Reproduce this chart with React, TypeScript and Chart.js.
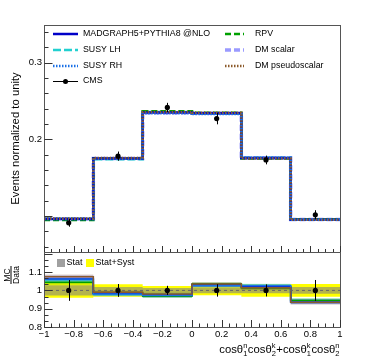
import React, { useEffect, useRef } from "react";
import { Chart, registerables } from "chart.js";

Chart.register(...registerables);

// ---------- data ----------
const BIN_EDGES = [-1, -0.6667, -0.3333, 0, 0.3333, 0.6667, 1];
const BIN_CENTERS = [-0.8333, -0.5, -0.1667, 0.1667, 0.5, 0.8333];
const X_TICKS = [-1, -0.8, -0.6, -0.4, -0.2, 0, 0.2, 0.4, 0.6, 0.8, 1];
const Y_TICKS = [0.2, 0.3];
const YR_TICKS = [0.8, 0.9, 1, 1.1];

const CMS_DATA = [0.091, 0.178, 0.2415, 0.227, 0.173, 0.1015];
const CMS_ERR = [0.005, 0.006, 0.006, 0.0075, 0.0057, 0.006];

const MG = [0.096, 0.175, 0.235, 0.234, 0.1755, 0.095];
const SUSY_LH = [0.0962, 0.174, 0.2355, 0.2335, 0.176, 0.0955];
const SUSY_RH = [0.096, 0.1745, 0.234, 0.233, 0.176, 0.0952];
const RPV = [0.0948, 0.1752, 0.2365, 0.2345, 0.175, 0.0958];
const DM_S = [0.0965, 0.1748, 0.2345, 0.234, 0.1755, 0.0955];
const DM_PS = [0.0968, 0.1755, 0.2355, 0.2345, 0.175, 0.095];

const R_MG = [1.063, 0.983, 0.975, 1.03, 1.02, 0.938];
const R_LH = [1.058, 0.978, 0.978, 1.028, 1.027, 0.942];
const R_RH = [1.062, 0.98, 0.972, 1.025, 1.025, 0.937];
const R_RPV = [1.045, 0.985, 0.968, 1.035, 1.015, 0.945];
const R_DMS = [1.072, 0.982, 0.972, 1.03, 1.022, 0.94];
const R_DMPS = [1.075, 0.99, 0.98, 1.035, 1.015, 0.935];
const R_MC_ERR = [0.012, 0.01, 0.01, 0.01, 0.01, 0.012];

const RATIO_DATA = [1, 1, 1, 1, 1, 1];
const RATIO_ERR = [0.057, 0.035, 0.025, 0.034, 0.033, 0.057];
const STAT_ERR = [0.028, 0.018, 0.013, 0.015, 0.016, 0.018];
const SYST_ERR = [0.04, 0.034, 0.024, 0.027, 0.034, 0.035];

const LEGEND_LABELS = ["MADGRAPH5+PYTHIA8 @NLO", "SUSY LH", "SUSY RH", "CMS", "RPV", "DM scalar", "DM pseudoscalar"];
const RATIO_LEGEND = ["Stat", "Stat+Syst"];
const Y_TITLE = "Events normalized to unity";

// ---------- styles ----------
const FONT = "'Liberation Sans', Arial, Helvetica, sans-serif";
const C_MG = "#0000c8";
const C_LH = "#22d0d0";
const C_RH = "#1a70e6";
const C_RPV = "#00a000";
const C_DMS = "#9a9aff";
const C_DMPS = "#8b5a2b";

type Sty = { color: string; width: number; dash: number[] };
const ST_MG: Sty = { color: C_MG, width: 2.5, dash: [] };
const ST_LH: Sty = { color: C_LH, width: 2.5, dash: [8, 3] };
const ST_RH: Sty = { color: C_RH, width: 2.5, dash: [1.5, 1.5] };
const ST_RPV: Sty = { color: C_RPV, width: 2.5, dash: [6, 3] };
const ST_DMS: Sty = { color: C_DMS, width: 3.5, dash: [6, 3] };
const ST_DMPS: Sty = { color: C_DMPS, width: 2.5, dash: [1.5, 1.5] };

function stepData(vals: number[]) {
  return BIN_EDGES.map((x, i) => ({ x, y: vals[Math.min(i, vals.length - 1)] }));
}
function stepShift(vals: number[], err: number[], sign: number) {
  return BIN_EDGES.map((x, i) => {
    const k = Math.min(i, vals.length - 1);
    return { x, y: vals[k] + sign * err[k] };
  });
}
function alpha(hex: string, a: number) {
  const n = parseInt(hex.slice(1), 16);
  return `rgba(${(n >> 16) & 255},${(n >> 8) & 255},${n & 255},${a})`;
}

const STEP = "before";

function histDs(vals: number[], s: Sty): any {
  return {
    type: "line",
    data: stepData(vals),
    yAxisID: "y",
    stepped: STEP,
    borderColor: s.color,
    borderWidth: s.width,
    borderDash: s.dash,
    pointRadius: 0,
    fill: false,
  };
}

function bandPair(vals: number[], err: number[], color: string): any[] {
  return [
    { type: "line", data: stepShift(vals, err, -1), yAxisID: "yr", stepped: STEP, borderWidth: 0, pointRadius: 0, fill: false },
    { type: "line", data: stepShift(vals, err, 1), yAxisID: "yr", stepped: STEP, borderWidth: 0, pointRadius: 0, fill: "-1", backgroundColor: color },
  ];
}
function ratioLine(vals: number[], color: string): any {
  return { type: "line", data: stepData(vals), yAxisID: "yr", stepped: STEP, borderColor: color, borderWidth: 1.5, pointRadius: 0, fill: false };
}

const rootPlugin = {
  id: "rootStyle",
  afterDatasetsDraw(chart: any) {
    const ctx = chart.ctx as CanvasRenderingContext2D;
    const xs = chart.scales.x, ys = chart.scales.y, yr = chart.scales.yr;
    ctx.save();
    ctx.strokeStyle = "#000";
    ctx.lineWidth = 1;
    ctx.setLineDash([]);
    BIN_CENTERS.forEach((c, i) => {
      const px = Math.round(xs.getPixelForValue(c)) + 0.5;
      ctx.beginPath();
      ctx.moveTo(px, ys.getPixelForValue(CMS_DATA[i] - CMS_ERR[i]));
      ctx.lineTo(px, ys.getPixelForValue(CMS_DATA[i] + CMS_ERR[i]));
      ctx.moveTo(px, yr.getPixelForValue(RATIO_DATA[i] - RATIO_ERR[i]));
      ctx.lineTo(px, yr.getPixelForValue(RATIO_DATA[i] + RATIO_ERR[i]));
      ctx.stroke();
    });
    ctx.restore();
  },
  afterDraw(chart: any) {
    const ctx = chart.ctx as CanvasRenderingContext2D;
    const xs = chart.scales.x, ys = chart.scales.y, yr = chart.scales.yr;
    const L = xs.left, R = xs.right;
    ctx.save();
    ctx.setLineDash([]);
    // frames
    ctx.strokeStyle = "#555";
    ctx.lineWidth = 1;
    ctx.strokeRect(Math.round(L) + 0.5, Math.round(ys.top) + 0.5, Math.round(R - L), Math.round(ys.bottom - ys.top));
    ctx.strokeRect(Math.round(L) + 0.5, Math.round(yr.top) + 0.5, Math.round(R - L), Math.round(yr.bottom - yr.top));
    // ticks
    ctx.strokeStyle = "#333";
    ctx.beginPath();
    const lx = Math.round(L) + 0.5;
    for (let i = 3; i <= 17; i++) {
      const v = i * 0.02;
      const py = Math.round(ys.getPixelForValue(v)) + 0.5;
      const len = i % 5 === 0 ? 8 : 4;
      ctx.moveTo(lx, py);
      ctx.lineTo(lx + len, py);
    }
    for (let k = 0; k <= 12; k++) {
      const v = 0.8 + k * (0.1 / 3);
      if (v > yr.max) break;
      const py = Math.round(yr.getPixelForValue(v)) + 0.5;
      const len = k % 3 === 0 ? 8 : 4;
      ctx.moveTo(lx, py);
      ctx.lineTo(lx + len, py);
    }
    for (let i = -20; i <= 20; i++) {
      const px = Math.round(xs.getPixelForValue(i * 0.05)) + 0.5;
      const major = i % 4 === 0;
      const b1 = Math.round(ys.bottom);
      ctx.moveTo(px, b1);
      ctx.lineTo(px, b1 - (major ? 6 : 3));
      const b2 = Math.round(yr.bottom);
      ctx.moveTo(px, b2);
      ctx.lineTo(px, b2 - (major ? 7 : 3.5));
    }
    ctx.stroke();

    // legend
    ctx.fillStyle = "#000";
    ctx.font = `8.8px ${FONT}`;
    ctx.textBaseline = "middle";
    ctx.textAlign = "left";
    const sample = (x1: number, x2: number, y: number, s: Sty) => {
      ctx.strokeStyle = s.color;
      ctx.lineWidth = s.width;
      ctx.setLineDash(s.dash);
      ctx.beginPath();
      ctx.moveTo(x1, y);
      ctx.lineTo(x2, y);
      ctx.stroke();
      ctx.setLineDash([]);
    };
    const leftRows = [34, 50, 66, 81];
    const leftSty = [ST_MG, ST_LH, ST_RH];
    leftSty.forEach((s, i) => {
      sample(53, 78, leftRows[i], s);
      ctx.fillText(LEGEND_LABELS[i], 83, leftRows[i]);
    });
    // CMS
    ctx.strokeStyle = "#000";
    ctx.lineWidth = 1;
    ctx.beginPath();
    ctx.moveTo(53, leftRows[3] + 0.5);
    ctx.lineTo(78, leftRows[3] + 0.5);
    ctx.stroke();
    ctx.beginPath();
    ctx.arc(65.5, leftRows[3] + 0.5, 2.5, 0, Math.PI * 2);
    ctx.fill();
    ctx.fillText(LEGEND_LABELS[3], 83, leftRows[3]);
    const rightSty = [ST_RPV, ST_DMS, ST_DMPS];
    rightSty.forEach((s, i) => {
      sample(225, 244, leftRows[i], s);
      ctx.fillText(LEGEND_LABELS[4 + i], 255, leftRows[i]);
    });
    // ratio legend
    ctx.font = `9px ${FONT}`;
    ctx.fillStyle = "rgba(128,128,128,0.75)";
    ctx.fillRect(57, 259, 8, 8);
    ctx.fillStyle = "#ffff00";
    ctx.fillRect(86, 259, 8, 8);
    ctx.fillStyle = "#000";
    ctx.fillText(RATIO_LEGEND[0], 66.5, 263);
    ctx.fillText(RATIO_LEGEND[1], 95.5, 263);

    // y title
    ctx.save();
    ctx.translate(16, (ys.top + ys.bottom) / 2);
    ctx.rotate(-Math.PI / 2);
    ctx.font = `11.3px ${FONT}`;
    ctx.textAlign = "center";
    ctx.textBaseline = "middle";
    ctx.fillText(Y_TITLE, 0, 0);
    ctx.restore();

    // MC / Data
    ctx.save();
    ctx.translate(11, 275);
    ctx.rotate(-Math.PI / 2);
    ctx.font = `8.6px ${FONT}`;
    ctx.textAlign = "center";
    ctx.textBaseline = "alphabetic";
    ctx.fillText("MC", 0, -1.5);
    ctx.textBaseline = "top";
    ctx.fillText("Data", 0, 1.5);
    ctx.strokeStyle = "#000";
    ctx.lineWidth = 1;
    ctx.beginPath();
    ctx.moveTo(-9, 0);
    ctx.lineTo(9, 0);
    ctx.stroke();
    ctx.restore();

    // x title
    const parts: any[] = [
      { t: "cosθ" }, { sup: "n", sub: "1" },
      { t: "cosθ" }, { sup: "k", sub: "2" },
      { t: "+cosθ" }, { sup: "k", sub: "1" },
      { t: "cosθ" }, { sup: "n", sub: "2" },
    ];
    const mainF = `11.3px ${FONT}`, scrF = `7.5px ${FONT}`;
    let total = 0;
    const widths = parts.map((p) => {
      let w;
      if (p.t) { ctx.font = mainF; w = ctx.measureText(p.t).width; }
      else { ctx.font = scrF; w = Math.max(ctx.measureText(p.sup).width, ctx.measureText(p.sub).width) + 0.5; }
      total += w;
      return w;
    });
    let cx = R - total;
    const base = 353;
    ctx.textAlign = "left";
    ctx.textBaseline = "alphabetic";
    parts.forEach((p, i) => {
      if (p.t) { ctx.font = mainF; ctx.fillText(p.t, cx, base); }
      else {
        ctx.font = scrF;
        ctx.fillText(p.sup, cx, base - 5);
        ctx.fillText(p.sub, cx, base + 3);
      }
      cx += widths[i];
    });
    ctx.restore();
  },
};

export default function App() {
  const ref = useRef<HTMLCanvasElement | null>(null);
  useEffect(() => {
    if (!ref.current) return;
    const tickFont = { family: FONT, size: 9.5 };
    const datasets: any[] = [
      histDs(DM_S, ST_DMS),
      histDs(SUSY_LH, ST_LH),
      histDs(RPV, ST_RPV),
      histDs(MG, ST_MG),
      histDs(SUSY_RH, ST_RH),
      histDs(DM_PS, ST_DMPS),
      {
        type: "scatter",
        data: BIN_CENTERS.map((x, i) => ({ x, y: CMS_DATA[i] })),
        yAxisID: "y",
        pointRadius: 2.6,
        pointBackgroundColor: "#000",
        pointBorderWidth: 0,
        showLine: false,
      },
      ...bandPair(RATIO_DATA, SYST_ERR, "#ffff00"),
      ...bandPair(RATIO_DATA, STAT_ERR, "rgba(128,128,128,0.6)"),
      ...bandPair(R_DMS, R_MC_ERR, alpha(C_DMS, 0.35)),
      ...bandPair(R_LH, R_MC_ERR, alpha(C_LH, 0.3)),
      ...bandPair(R_RPV, R_MC_ERR, alpha(C_RPV, 0.3)),
      ...bandPair(R_MG, R_MC_ERR, alpha(C_MG, 0.25)),
      ...bandPair(R_RH, R_MC_ERR, alpha(C_RH, 0.3)),
      ...bandPair(R_DMPS, R_MC_ERR, alpha(C_DMPS, 0.25)),
      ratioLine(R_DMS, C_DMS),
      ratioLine(R_LH, C_LH),
      ratioLine(R_RPV, C_RPV),
      ratioLine(R_MG, C_MG),
      ratioLine(R_RH, C_RH),
      ratioLine(R_DMPS, C_DMPS),
      {
        type: "line",
        data: [{ x: -1, y: 1 }, { x: 1, y: 1 }],
        yAxisID: "yr",
        borderColor: "#666",
        borderWidth: 1,
        borderDash: [3, 3],
        pointRadius: 0,
        fill: false,
      },
      {
        type: "scatter",
        data: BIN_CENTERS.map((x, i) => ({ x, y: RATIO_DATA[i] })),
        yAxisID: "yr",
        pointRadius: 2.6,
        pointBackgroundColor: "#000",
        pointBorderWidth: 0,
        showLine: false,
      },
    ];
    datasets.forEach((d, i) => { d.order = -i; });
    const fmt = (v: number) => {
      const s = String(Math.round(Math.abs(v) * 10) / 10);
      return v < -1e-9 ? "\u2212" + s : s;
    };
    const chart = new Chart(ref.current, {
      type: "line",
      data: { datasets },
      plugins: [rootPlugin],
      options: {
        animation: false,
        responsive: false,
        devicePixelRatio: 1,
        layout: { padding: { left: 14, right: 30, top: 25, bottom: 21 } },
        plugins: { legend: { display: false }, tooltip: { enabled: false } },
        scales: {
          x: {
            type: "linear",
            min: -1,
            max: 1,
            grid: { display: false, drawTicks: false },
            border: { display: false },
            ticks: { padding: 2, font: tickFont, color: "#000", autoSkip: false, maxRotation: 0, callback: (v: any) => fmt(Number(v)) },
            afterBuildTicks: (s: any) => { s.ticks = X_TICKS.map((value) => ({ value })); },
            afterFit: (s: any) => { s.height = 12; },
          },
          yr: {
            type: "linear",
            position: "left",
            stack: "panels",
            stackWeight: 75,
            min: 0.8,
            max: 1.21,
            grid: { display: false, drawTicks: false },
            border: { display: false },
            ticks: { padding: 2, font: tickFont, color: "#000", autoSkip: false, callback: (v: any) => fmt(Number(v)) },
            afterBuildTicks: (s: any) => { s.ticks = YR_TICKS.map((value) => ({ value })); },
            afterFit: (s: any) => { s.width = 30; },
          },
          y: {
            type: "linear",
            position: "left",
            stack: "panels",
            stackWeight: 227,
            min: 0.053,
            max: 0.349,
            grid: { display: false, drawTicks: false },
            border: { display: false },
            ticks: { padding: 2, font: tickFont, color: "#000", autoSkip: false, callback: (v: any) => fmt(Number(v)) },
            afterBuildTicks: (s: any) => { s.ticks = Y_TICKS.map((value) => ({ value })); },
            afterFit: (s: any) => { s.width = 30; },
          },
        },
      } as any,
    });
    return () => chart.destroy();
  }, []);
  return (
    <div style={{ position: "absolute", left: 0, top: 0, width: 370, height: 360, background: "#fff" }}>
      <canvas ref={ref} width={370} height={360} style={{ display: "block", width: 370, height: 360 }} />
    </div>
  );
}
